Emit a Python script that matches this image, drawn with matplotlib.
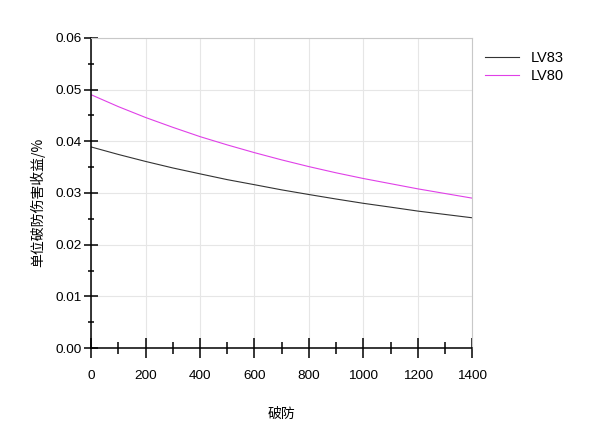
import matplotlib.pyplot as plt
from matplotlib.ticker import MultipleLocator

plt.rcParams['font.family'] = ['Liberation Sans', 'Noto Sans CJK SC', 'DejaVu Sans']

armor = [0, 100, 200, 300, 400, 500, 600, 700, 800, 900, 1000, 1100, 1200, 1300, 1400]
lv83 = [0.0389, 0.03745, 0.0361, 0.03484, 0.0337, 0.03258, 0.0316, 0.0306, 0.0297,
        0.02883, 0.0280, 0.02726, 0.0265, 0.02585, 0.0252]
lv80 = [0.0490, 0.0467, 0.0446, 0.0427, 0.0409, 0.0393, 0.0378, 0.0364, 0.0351,
        0.0339, 0.0328, 0.0318, 0.0308, 0.0299, 0.0290]

fig = plt.figure(figsize=(6, 4.26), dpi=100)
ax = fig.add_axes([0.152, 0.183, 0.635, 0.728])

ax.plot(armor, lv83, color='#333333', lw=0.8, label='LV83')
ax.plot(armor, lv80, color='#e040e8', lw=0.8, label='LV80')

ax.set_xlim(0, 1400)
ax.set_ylim(0, 0.06)
ax.xaxis.set_major_locator(MultipleLocator(200))
ax.xaxis.set_minor_locator(MultipleLocator(100))
ax.yaxis.set_major_locator(MultipleLocator(0.01))
ax.yaxis.set_minor_locator(MultipleLocator(0.005))
ax.yaxis.set_major_formatter(plt.FormatStrFormatter('%.2f'))

ax.grid(True, which='major', color='#e6e6e6', lw=0.8)
ax.set_axisbelow(True)

ax.tick_params(axis='x', which='major', direction='inout', length=15, width=1.1, pad=8, labelsize=9.7)
ax.tick_params(axis='x', which='minor', direction='inout', length=8, width=1.1)
ax.tick_params(axis='y', which='major', direction='inout', length=10, width=1.1, pad=2, labelsize=9.7)
ax.tick_params(axis='y', which='minor', direction='inout', length=5, width=1.1)

for s in ['top', 'right']:
    ax.spines[s].set_color('#c8c8c8')
for s in ['left', 'bottom']:
    ax.spines[s].set_linewidth(1.1)

ax.set_xlabel('破防', fontsize=10, fontfamily=['Noto Sans CJK SC'], labelpad=18)
ax.set_ylabel('单位破防伤害收益/%', fontsize=10, fontfamily=['Noto Sans CJK SC'])
ax.yaxis.set_label_coords(-0.12, 0.47)

ax.legend(loc='upper left', bbox_to_anchor=(1.0, 1.0), frameon=False, fontsize=10.5,
          handlelength=2.3, labelspacing=0.3)

fig.savefig('out.png', dpi=100)
